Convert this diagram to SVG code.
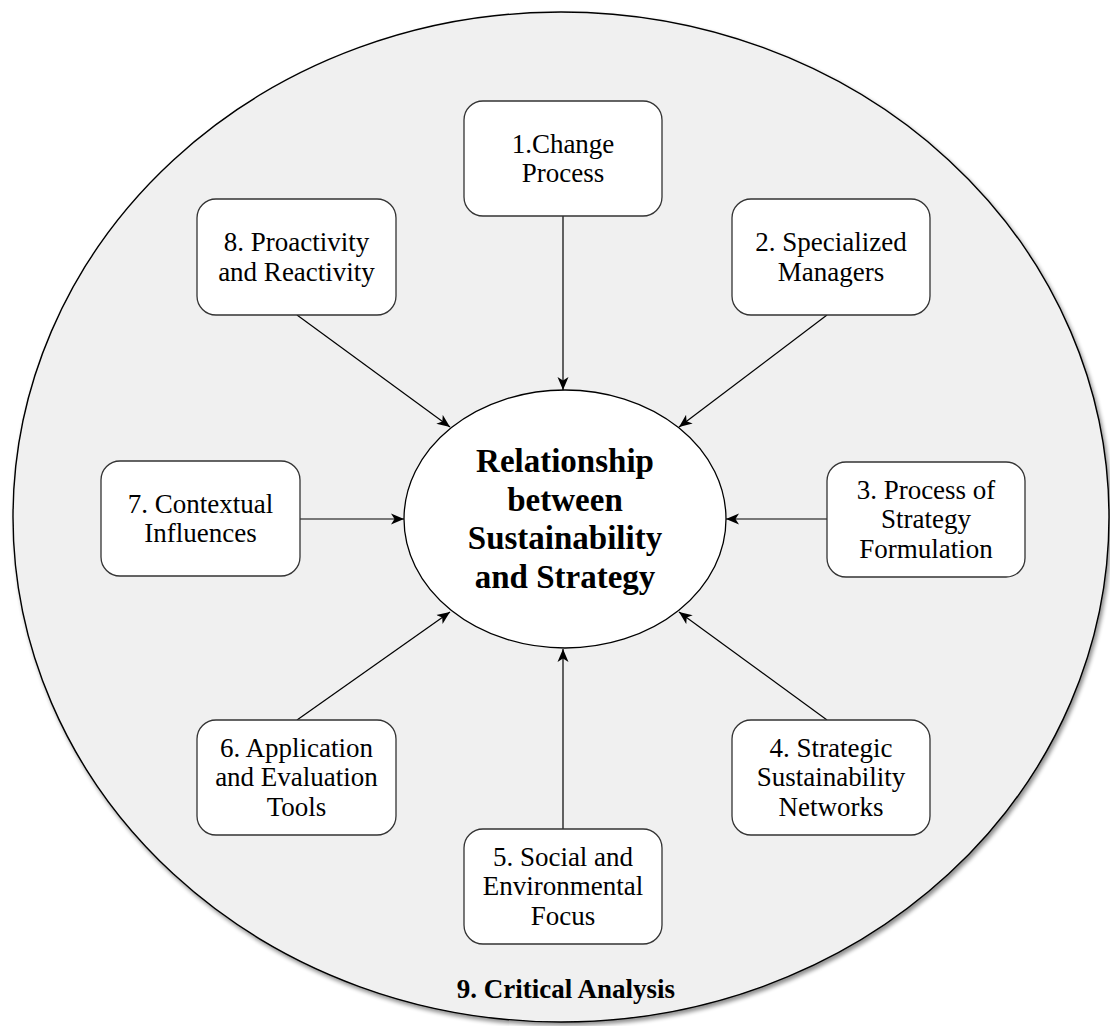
<svg xmlns="http://www.w3.org/2000/svg" width="1110" height="1026" viewBox="0 0 1110 1026">
  <defs>
    <filter id="shadow" x="-5%" y="-5%" width="110%" height="110%">
      <feGaussianBlur in="SourceAlpha" stdDeviation="2"/>
      <feOffset dx="2" dy="3" result="b"/>
      <feComponentTransfer><feFuncA type="linear" slope="0.45"/></feComponentTransfer>
      <feMerge><feMergeNode/><feMergeNode in="SourceGraphic"/></feMerge>
    </filter>
    <marker id="arrow" markerUnits="userSpaceOnUse" markerWidth="14" markerHeight="12" viewBox="0 0 14 12" refX="13" refY="6" orient="auto">
      <path d="M0,0.5 L13,6 L0,11.5 L3.5,6 Z" fill="#000"/>
    </marker>
    <style>
      .box { fill: #ffffff; stroke: #333333; stroke-width: 1.3; }
      .lbl { font-family: "Liberation Serif", "Times New Roman", serif; font-size: 27px; fill: #000; text-anchor: middle; }
      .ctr { font-family: "Liberation Serif", "Times New Roman", serif; font-size: 33px; font-weight: bold; fill: #000; text-anchor: middle; }
      .conn { stroke: #000; stroke-width: 1.2; fill: none; marker-end: url(#arrow); }
    </style>
  </defs>
  <rect width="1110" height="1026" fill="#ffffff"/>

  <g id="critical-analysis">
    <ellipse cx="561" cy="517" rx="548" ry="505" fill="#f0f0f0" stroke="#000" stroke-width="1.4" filter="url(#shadow)"/>
    <text x="566" y="998" font-family="Liberation Serif, Times New Roman, serif" font-size="27" font-weight="bold" text-anchor="middle" fill="#000">9. Critical Analysis</text>
  </g>

  <g id="connectors">
    <line class="conn" x1="563" y1="216" x2="563" y2="390"/>
    <line class="conn" x1="827" y1="315" x2="679" y2="427"/>
    <line class="conn" x1="827" y1="519" x2="726" y2="519"/>
    <line class="conn" x1="827" y1="720" x2="679" y2="612"/>
    <line class="conn" x1="563" y1="829" x2="563" y2="649"/>
    <line class="conn" x1="297" y1="720" x2="450" y2="612"/>
    <line class="conn" x1="300" y1="519" x2="404" y2="519"/>
    <line class="conn" x1="297" y1="315" x2="450" y2="427"/>
  </g>

  <g id="center">
    <ellipse cx="565" cy="519" rx="161" ry="129" fill="#ffffff" stroke="#000" stroke-width="1.3"/>
    <text class="ctr" x="565" y="472">Relationship</text>
    <text class="ctr" x="565" y="510.5">between</text>
    <text class="ctr" x="565" y="549">Sustainability</text>
    <text class="ctr" x="565" y="588">and Strategy</text>
  </g>

  <g id="node1">
    <rect class="box" x="464" y="101" width="198" height="115" rx="19"/>
    <text class="lbl" x="563" y="152.5">1.Change</text>
    <text class="lbl" x="563" y="182">Process</text>
  </g>
  <g id="node2">
    <rect class="box" x="732" y="199" width="198" height="116" rx="19"/>
    <text class="lbl" x="831" y="251">2. Specialized</text>
    <text class="lbl" x="831" y="280.5">Managers</text>
  </g>
  <g id="node3">
    <rect class="box" x="827" y="462" width="198" height="115" rx="19"/>
    <text class="lbl" x="926" y="498.5">3. Process of</text>
    <text class="lbl" x="926" y="528">Strategy</text>
    <text class="lbl" x="926" y="557.5">Formulation</text>
  </g>
  <g id="node4">
    <rect class="box" x="732" y="720" width="198" height="115" rx="19"/>
    <text class="lbl" x="831" y="756.5">4. Strategic</text>
    <text class="lbl" x="831" y="786">Sustainability</text>
    <text class="lbl" x="831" y="815.5">Networks</text>
  </g>
  <g id="node5">
    <rect class="box" x="464" y="829" width="198" height="115" rx="19"/>
    <text class="lbl" x="563" y="865.5">5. Social and</text>
    <text class="lbl" x="563" y="895">Environmental</text>
    <text class="lbl" x="563" y="924.5">Focus</text>
  </g>
  <g id="node6">
    <rect class="box" x="197" y="720" width="199" height="115" rx="19"/>
    <text class="lbl" x="296.5" y="756.5">6. Application</text>
    <text class="lbl" x="296.5" y="786">and Evaluation</text>
    <text class="lbl" x="296.5" y="815.5">Tools</text>
  </g>
  <g id="node7">
    <rect class="box" x="101" y="461" width="199" height="115" rx="19"/>
    <text class="lbl" x="200.5" y="512.5">7. Contextual</text>
    <text class="lbl" x="200.5" y="542">Influences</text>
  </g>
  <g id="node8">
    <rect class="box" x="197" y="199" width="199" height="116" rx="19"/>
    <text class="lbl" x="296.5" y="251">8. Proactivity</text>
    <text class="lbl" x="296.5" y="280.5">and Reactivity</text>
  </g>
</svg>
